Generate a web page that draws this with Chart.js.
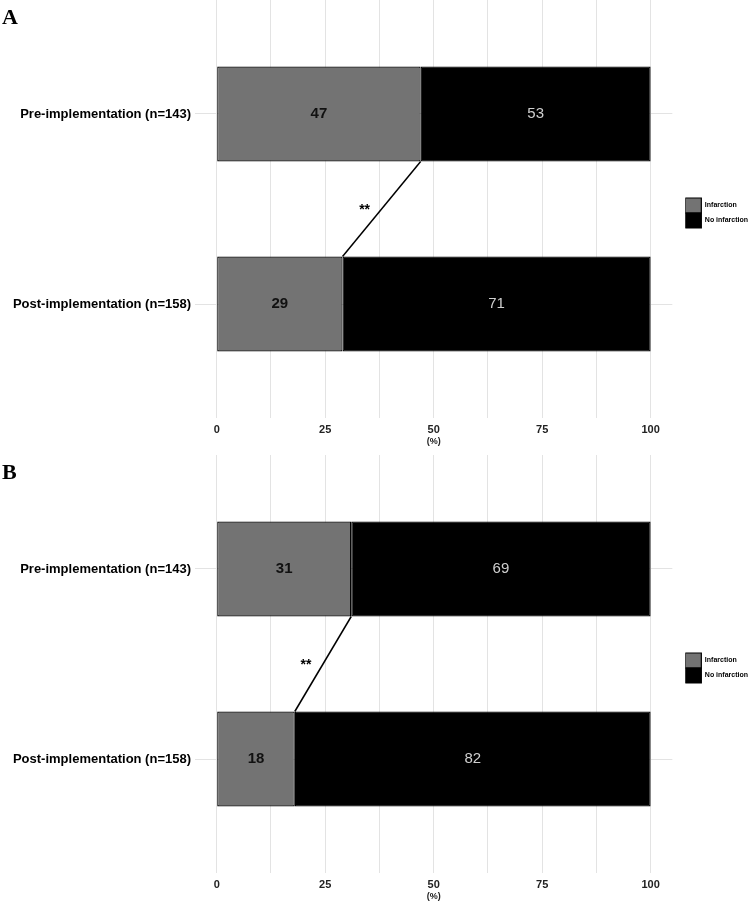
<!DOCTYPE html>
<html>
<head>
<title>Infarction before and after implementation</title>
<script src="https://cdn.jsdelivr.net/npm/chart.js"></script>
<style>
  body { margin: 0; background: #fff; }
  .panel { position: relative; width: 749px; }
  .panel canvas { display: block; }
  .letter { position: absolute; left: 2px; top: 6px; font: bold 22px 'Liberation Serif', 'Times New Roman', serif; line-height: 22px; }
</style>
</head>
<body>
<div class="panel"><div class="letter">A</div><canvas id="chartA" width="749" height="447"></canvas></div>
<div class="panel" style="margin-top:8px"><div class="letter">B</div><canvas id="chartB" width="749" height="447"></canvas></div>
<script>
// data (percent of patients)
const categories = ['Pre-implementation (n=143)', 'Post-implementation (n=158)'];
const seriesNames = ['Infarction', 'No infarction'];
const infarctionA = [47, 29];
const noInfarctionA = [53, 71];
const infarctionB = [31, 18];
const noInfarctionB = [69, 82];
const xTickLabels = [0, 25, 50, 75, 100];
const sigLabel = '**';

Chart.defaults.font.family = "'Liberation Sans', Arial, Helvetica, sans-serif";

const barPct = 0.5;
const gridColor = '#e3e3e3';
// category positions on the y axis (1 = top)
const catPos = categories.map((c, i) => i + 1);
// major ticks plus minor grid lines halfway between them
const gridValues = [];
xTickLabels.forEach((v, i) => {
    gridValues.push(v);
    if (i < xTickLabels.length - 1) gridValues.push((v + xTickLabels[i + 1]) / 2);
});

// writes the percentages inside the bars and the significance stars
const barText = {
    id: 'barText',
    afterDatasetsDraw(chart) {
        const ctx = chart.ctx;
        ctx.save();
        ctx.textAlign = 'center';
        ctx.textBaseline = 'middle';
        [0, 1].forEach(di => {
            const ds = chart.data.datasets[di];
            ctx.font = ds.textWeight + " 15px 'Liberation Sans', Arial, sans-serif";
            ctx.fillStyle = ds.textColor;
            chart.getDatasetMeta(di).data.forEach((bar, i) => {
                const c = bar.getCenterPoint();
                ctx.fillText(ds.data[i].x, c.x, c.y);
            });
        });
        const pts = chart.getDatasetMeta(2).data;
        ctx.fillStyle = '#000';
        ctx.font = "bold 14px 'Liberation Sans', Arial, sans-serif";
        ctx.fillText(sigLabel, (pts[0].x + pts[1].x) / 2 - 17, (pts[0].y + pts[1].y) / 2 + 1);
        ctx.restore();
    }
};

// nudge the legend away from the plot a little, like ggplot does
const legendNudge = {
    id: 'legendNudge',
    afterLayout(chart) {
        chart.legend.left += 13;
        chart.legend.right += 13;
        chart.legend.top += 4;
        chart.legend.bottom += 4;
    }
};

function makeChart(id, infarction, noInfarction) {
    const ctx = document.getElementById(id).getContext('2d');
    return new Chart(ctx, {
        type: 'bar',
        data: {
            datasets: [{
                label: seriesNames[0],
                data: infarction.map((v, i) => ({ x: v, y: catPos[i] })),
                backgroundColor: '#737373',
                borderColor: '#000',
                borderWidth: 1.2,
                borderSkipped: false,
                barPercentage: barPct,
                categoryPercentage: 1,
                textColor: '#111',
                textWeight: 'bold'
            }, {
                label: seriesNames[1],
                data: noInfarction.map((v, i) => ({ x: v, y: catPos[i] })),
                backgroundColor: '#000',
                borderColor: '#000',
                borderWidth: 1.2,
                borderSkipped: false,
                barPercentage: barPct,
                categoryPercentage: 1,
                textColor: '#cfcfcf',
                textWeight: 'normal'
            }, {
                // connector between the two infarction bars
                type: 'line',
                label: 'connector',
                data: [
                    { x: infarction[0], y: catPos[0] + barPct / 2 },
                    { x: infarction[1], y: catPos[1] - barPct / 2 }
                ],
                borderColor: '#000',
                borderWidth: 1.5,
                pointRadius: 0,
                fill: false
            }]
        },
        options: {
            responsive: false,
            animation: false,
            indexAxis: 'y',
            layout: { padding: { right: 4 } },
            scales: {
                x: {
                    type: 'linear',
                    stacked: true,
                    min: -5,
                    max: 105,
                    afterBuildTicks: s => { s.ticks = gridValues.map(v => ({ value: v })); },
                    afterFit: s => { s.height = 29; },
                    ticks: {
                        autoSkip: false,
                        maxRotation: 0,
                        padding: 5,
                        color: '#222',
                        font: { size: 11, weight: 'bold' },
                        callback: v => xTickLabels.includes(v) ? v : ''
                    },
                    grid: { color: gridColor, drawTicks: false },
                    border: { display: false },
                    title: {
                        display: true,
                        text: '(%)',
                        color: '#222',
                        font: { size: 9, weight: 'bold' },
                        padding: { top: 0, bottom: 0 }
                    }
                },
                y: {
                    type: 'linear',
                    stacked: true,
                    reverse: true,
                    offset: false,
                    min: 0.4,
                    max: 2.6,
                    afterBuildTicks: s => { s.ticks = catPos.map(v => ({ value: v })); },
                    afterFit: s => { s.width = 195; s.paddingTop = 0; s.paddingBottom = 0; },
                    ticks: {
                        padding: 4,
                        color: '#000',
                        font: { size: 13, weight: 'bold' },
                        callback: v => categories[v - 1]
                    },
                    grid: { color: gridColor, drawTicks: false, offset: false },
                    border: { display: false }
                }
            },
            plugins: {
                legend: {
                    position: 'right',
                    fullSize: false,
                    maxWidth: 77,
                    labels: {
                        boxWidth: 16,
                        boxHeight: 15,
                        padding: 0,
                        color: '#000',
                        font: { size: 7, weight: 'bold' },
                        filter: item => item.datasetIndex < 2
                    }
                },
                tooltip: { enabled: false }
            }
        },
        plugins: [barText, legendNudge]
    });
}

makeChart('chartA', infarctionA, noInfarctionA);
makeChart('chartB', infarctionB, noInfarctionB);
</script>
</body>
</html>
